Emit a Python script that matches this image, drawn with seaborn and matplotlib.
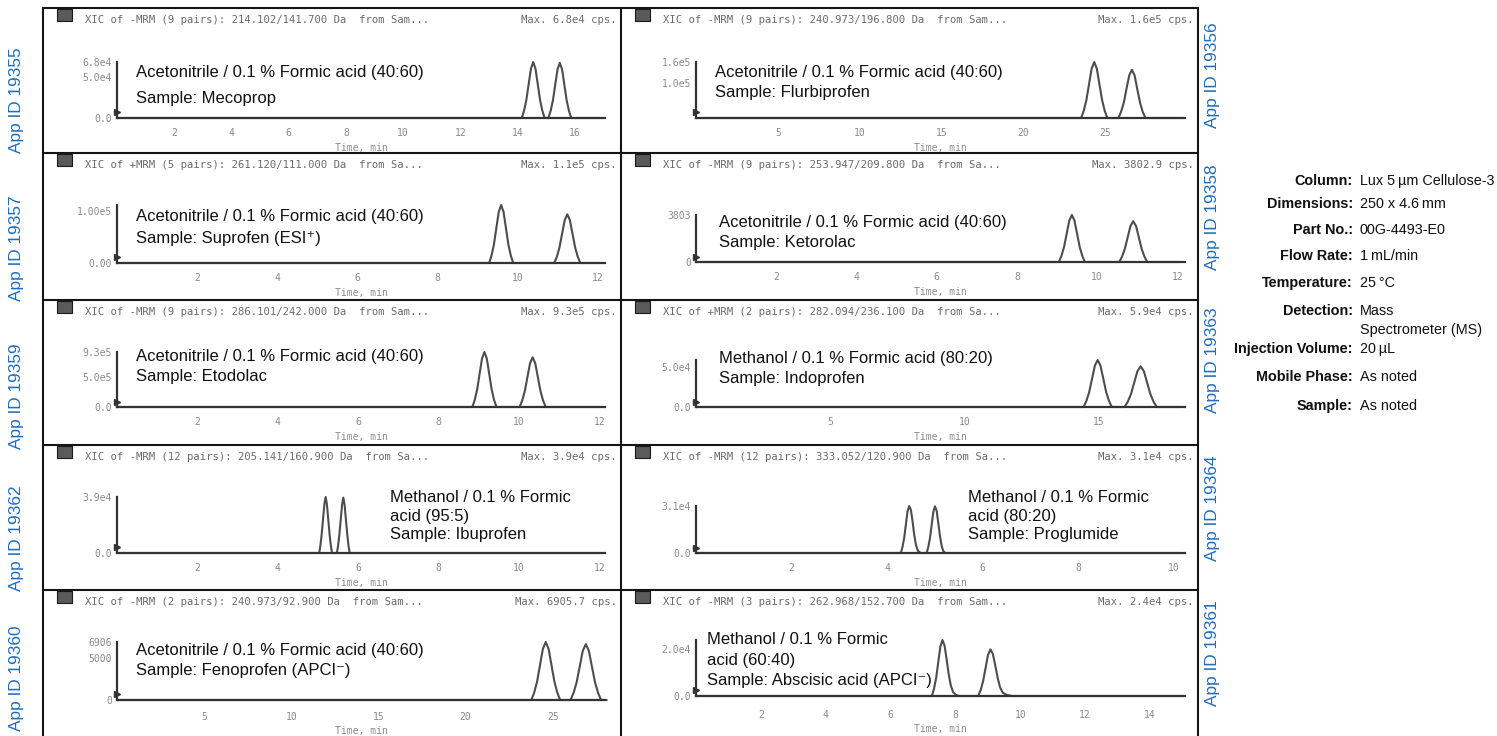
import matplotlib
matplotlib.use("Agg")
import matplotlib.pyplot as plt
import pandas as pd
import seaborn as sns
from matplotlib.lines import Line2D
from matplotlib.patches import Rectangle
from matplotlib.ticker import MultipleLocator, FuncFormatter

# ---------------------------------------------------------------- data
t_mecoprop = [0.0, 14.15, 14.23, 14.31, 14.39, 14.47, 14.55, 14.63, 14.71, 14.79, 14.87, 14.95,
              15.08, 15.16, 15.24, 15.32, 15.40, 15.48, 15.56, 15.64, 15.72, 15.80, 15.88, 16.95]
i_mecoprop = [0, 0, 8800, 21800, 40800, 59800, 68000, 59800, 40800, 21800, 8800, 0,
              0, 8700, 21400, 40200, 59000, 67000, 59000, 40200, 21400, 8700, 0, 0]

t_flurbiprofen = [0.0, 23.55, 23.71, 23.87, 24.03, 24.19, 24.35, 24.51, 24.67, 24.83, 24.99, 25.15,
                  25.83, 25.99, 26.16, 26.32, 26.49, 26.65, 26.82, 26.98, 27.15, 27.31, 27.48, 29.8]
i_flurbiprofen = [0, 0, 20800, 51200, 96000, 140800, 160000, 140800, 96000, 51200, 20800, 0,
                  0, 17900, 44200, 82800, 121400, 138000, 121400, 82800, 44200, 17900, 0, 0]

t_suprofen = [0.0, 9.28, 9.34, 9.40, 9.46, 9.52, 9.58, 9.64, 9.70, 9.76, 9.82, 9.88,
              10.905, 10.97, 11.035, 11.10, 11.165, 11.23, 11.295, 11.36, 11.425, 11.49, 11.555, 12.05]
i_suprofen = [0, 0, 14600, 35800, 67200, 98600, 112000, 98600, 67200, 35800, 14600, 0,
              0, 12200, 30100, 56400, 82700, 94000, 82700, 56400, 30100, 12200, 0, 0]

t_ketorolac = [0.0, 9.045, 9.11, 9.175, 9.24, 9.305, 9.37, 9.435, 9.50, 9.565, 9.63, 9.695,
               10.55, 10.62, 10.69, 10.76, 10.83, 10.90, 10.97, 11.04, 11.11, 11.18, 11.25, 12.05]
i_ketorolac = [0, 0, 494, 1217, 2282, 3347, 3803, 3347, 2282, 1217, 494, 0,
               0, 429, 1056, 1980, 2904, 3300, 2904, 1980, 1056, 429, 0, 0]

t_etodolac = [0.0, 8.84, 8.90, 8.96, 9.02, 9.08, 9.14, 9.20, 9.26, 9.32, 9.38, 9.44,
              10.015, 10.08, 10.145, 10.21, 10.275, 10.34, 10.405, 10.47, 10.535, 10.60, 10.665, 12.05]
i_etodolac = [0, 0, 120900, 297600, 558000, 818400, 930000, 818400, 558000, 297600, 120900, 0,
              0, 109200, 268800, 504000, 739200, 840000, 739200, 504000, 268800, 109200, 0, 0]

t_indoprofen = [0.0, 14.425, 14.53, 14.635, 14.74, 14.845, 14.95, 15.055, 15.16, 15.265, 15.37, 15.475,
                15.95, 16.07, 16.19, 16.31, 16.43, 16.55, 16.67, 16.79, 16.91, 17.03, 17.15, 18.05]
i_indoprofen = [0, 0, 7670, 18880, 35400, 51920, 59000, 51920, 35400, 18880, 7670, 0,
                0, 6630, 16320, 30600, 44880, 51000, 44880, 30600, 16320, 6630, 0, 0]

t_ibuprofen = [0.0, 5.03, 5.06, 5.09, 5.125, 5.16, 5.19, 5.22, 5.255, 5.29, 5.32, 5.35,
               5.47, 5.50, 5.53, 5.565, 5.60, 5.63, 5.66, 5.695, 5.73, 5.76, 5.79, 12.05]
i_ibuprofen = [0, 0, 5070, 12480, 23400, 34320, 39000, 34320, 23400, 12480, 5070, 0,
               0, 5020, 12350, 23160, 33970, 38600, 33970, 23160, 12350, 5020, 0, 0]

t_proglumide = [0.0, 4.285, 4.32, 4.355, 4.39, 4.425, 4.46, 4.495, 4.53, 4.565, 4.60, 4.64, 4.70,
                4.825, 4.86, 4.895, 4.93, 4.965, 5.00, 5.035, 5.07, 5.105, 5.14, 5.175, 5.22, 10.1]
i_proglumide = [0, 0, 4030, 9920, 18600, 27280, 31000, 28500, 21000, 12000, 5500, 1500, 0,
                0, 4000, 9860, 18480, 27100, 30800, 27800, 19500, 11000, 4600, 1200, 0, 0]

t_fenoprofen = [0.0, 23.775, 23.94, 24.105, 24.27, 24.435, 24.60, 24.765, 24.93, 25.095, 25.26, 25.425,
                26.025, 26.20, 26.375, 26.55, 26.725, 26.90, 27.075, 27.25, 27.425, 27.60, 27.775, 28.1]
i_fenoprofen = [0, 0, 898, 2210, 4144, 6077, 6906, 6077, 4144, 2210, 898, 0,
                0, 865, 2128, 3990, 5852, 6650, 5852, 3990, 2128, 865, 0, 0]

t_abscisic = [0.0, 7.275, 7.34, 7.405, 7.47, 7.535, 7.60, 7.665, 7.73, 7.795, 7.86, 7.93, 8.02, 8.12,
              8.705, 8.78, 8.855, 8.93, 9.005, 9.08, 9.155, 9.23, 9.305, 9.38, 9.46, 9.58, 9.75, 15.0]
i_abscisic = [0, 0, 3120, 7680, 14400, 21120, 24000, 21600, 15600, 9200, 4400, 1600, 500, 0,
              0, 2600, 6400, 12000, 17600, 20000, 18000, 13000, 7600, 3600, 1400, 500, 0, 0]

# y tick values / labels
yt_mecoprop, ytl_mecoprop = [0, 5.0e4, 6.8e4], ["0.0", "5.0e4", "6.8e4"]
yt_flurbiprofen, ytl_flurbiprofen = [1.0e5, 1.6e5], ["1.0e5", "1.6e5"]
yt_suprofen, ytl_suprofen = [0, 1.0e5], ["0.00", "1.00e5"]
yt_ketorolac, ytl_ketorolac = [0, 3803], ["0", "3803"]
yt_etodolac, ytl_etodolac = [0, 5.0e5, 9.3e5], ["0.0", "5.0e5", "9.3e5"]
yt_indoprofen, ytl_indoprofen = [0, 5.0e4], ["0.0", "5.0e4"]
yt_ibuprofen, ytl_ibuprofen = [0, 3.9e4], ["0.0", "3.9e4"]
yt_proglumide, ytl_proglumide = [0, 3.1e4], ["0.0", "3.1e4"]
yt_fenoprofen, ytl_fenoprofen = [0, 5000, 6906], ["0", "5000", "6906"]
yt_abscisic, ytl_abscisic = [0, 2.0e4], ["0.0", "2.0e4"]

# axis maxima (max signal of each trace, end of time axis)
ymax_list = [6.8e4, 1.6e5, 1.12e5, 3803, 9.3e5, 5.9e4, 3.9e4, 3.1e4, 6906, 2.4e4]
xmax_list = [17.06, 29.9, 12.17, 12.19, 12.14, 18.2, 12.14, 10.23, 28.0, 15.08]

headers = [
    "XIC of -MRM (9 pairs): 214.102/141.700 Da  from Sam...",
    "XIC of -MRM (9 pairs): 240.973/196.800 Da  from Sam...",
    "XIC of +MRM (5 pairs): 261.120/111.000 Da  from Sa...",
    "XIC of -MRM (9 pairs): 253.947/209.800 Da  from Sa...",
    "XIC of -MRM (9 pairs): 286.101/242.000 Da  from Sam...",
    "XIC of +MRM (2 pairs): 282.094/236.100 Da  from Sa...",
    "XIC of -MRM (12 pairs): 205.141/160.900 Da  from Sa...",
    "XIC of -MRM (12 pairs): 333.052/120.900 Da  from Sa...",
    "XIC of -MRM (2 pairs): 240.973/92.900 Da  from Sam...",
    "XIC of -MRM (3 pairs): 262.968/152.700 Da  from Sam...",
]
max_labels = ["Max. 6.8e4 cps.", "Max. 1.6e5 cps.", "Max. 1.1e5 cps.", "Max. 3802.9 cps.",
              "Max. 9.3e5 cps.", "Max. 5.9e4 cps.", "Max. 3.9e4 cps.", "Max. 3.1e4 cps.",
              "Max. 6905.7 cps.", "Max. 2.4e4 cps."]
notes = [
    ["Acetonitrile / 0.1 % Formic acid (40:60)", "Sample: Mecoprop"],
    ["Acetonitrile / 0.1 % Formic acid (40:60)", "Sample: Flurbiprofen"],
    ["Acetonitrile / 0.1 % Formic acid (40:60)", "Sample: Suprofen (ESI\u207a)"],
    ["Acetonitrile / 0.1 % Formic acid (40:60)", "Sample: Ketorolac"],
    ["Acetonitrile / 0.1 % Formic acid (40:60)", "Sample: Etodolac"],
    ["Methanol / 0.1 % Formic acid (80:20)", "Sample: Indoprofen"],
    ["Methanol / 0.1 % Formic", "acid (95:5)", "Sample: Ibuprofen"],
    ["Methanol / 0.1 % Formic", "acid (80:20)", "Sample: Proglumide"],
    ["Acetonitrile / 0.1 % Formic acid (40:60)", "Sample: Fenoprofen (APCI\u207b)"],
    ["Methanol / 0.1 % Formic", "acid (60:40)", "Sample: Abscisic acid (APCI\u207b)"],
]
app_ids = ["App ID 19355", "App ID 19356", "App ID 19357", "App ID 19358", "App ID 19359",
           "App ID 19363", "App ID 19362", "App ID 19364", "App ID 19360", "App ID 19361"]

info_labels = ["Column:", "Dimensions:", "Part No.:", "Flow Rate:", "Temperature:",
               "Detection:", "Injection Volume:", "Mobile Phase:", "Sample:"]
info_values = ["Lux 5\u2009\u00b5m Cellulose-3", "250 x 4.6\u2009mm", "00G-4493-E0", "1\u2009mL/min",
               "25\u2009\u00b0C", "Mass\nSpectrometer (MS)", "20\u2009\u00b5L", "As noted", "As noted"]

traces = [(t_mecoprop, i_mecoprop), (t_flurbiprofen, i_flurbiprofen), (t_suprofen, i_suprofen),
          (t_ketorolac, i_ketorolac), (t_etodolac, i_etodolac), (t_indoprofen, i_indoprofen),
          (t_ibuprofen, i_ibuprofen), (t_proglumide, i_proglumide), (t_fenoprofen, i_fenoprofen),
          (t_abscisic, i_abscisic)]
yticks = [(yt_mecoprop, ytl_mecoprop), (yt_flurbiprofen, ytl_flurbiprofen), (yt_suprofen, ytl_suprofen),
          (yt_ketorolac, ytl_ketorolac), (yt_etodolac, ytl_etodolac), (yt_indoprofen, ytl_indoprofen),
          (yt_ibuprofen, ytl_ibuprofen), (yt_proglumide, ytl_proglumide), (yt_fenoprofen, ytl_fenoprofen),
          (yt_abscisic, ytl_abscisic)]

# ---------------------------------------------------------------- layout / style
W, H = 1497, 736
sns.set_style("white")
MONO = ['DejaVu Sans Mono']
SANS = ['Liberation Sans', 'DejaVu Sans']
plt.rcParams['font.family'] = MONO

ROW_TOP = [8, 153, 300, 445, 590]
CELL = [(43, 621), (621, 1198)]
AXX = [(117, 605), (696, 1185)]
LAYOUT = [
    dict(top=54, bot=110, xmaj=2, xmin=1, ymin=1e4, tx=136, ty=65, sp=25, app=92, pad=4.5),
    dict(top=54, bot=110, xmaj=5, xmin=1, ymin=2e4, tx=715, ty=65, sp=20, app=67, pad=4.5),
    dict(top=52, bot=110, xmaj=2, xmin=1, ymin=2.5e4, tx=136, ty=64, sp=21, app=95, pad=4.5),
    dict(top=62, bot=109, xmaj=2, xmin=1, ymin=1000, tx=719, ty=70, sp=20, app=64, pad=4.5),
    dict(top=52, bot=107, xmaj=2, xmin=1, ymin=1e5, tx=136, ty=57, sp=20, app=96, pad=4.5),
    dict(top=60, bot=107, xmaj=5, xmin=1, ymin=1e4, tx=719, ty=58, sp=20, app=60, pad=4.5),
    dict(top=52, bot=108, xmaj=2, xmin=1, ymin=1e4, tx=390, ty=52, sp=19, app=93, pad=4.5),
    dict(top=61, bot=108, xmaj=2, xmin=1, ymin=1e4, tx=968, ty=52, sp=19, app=63, pad=4.5),
    dict(top=52, bot=110, xmaj=5, xmin=1, ymin=1000, tx=136, ty=60, sp=21, app=88, pad=5.5),
    dict(top=50, bot=106, xmaj=2, xmin=1, ymin=5000, tx=707, ty=50, sp=20, app=63, pad=7),
]

fig = plt.figure(figsize=(W / 100, H / 100), dpi=100)
fig.patch.set_facecolor('white')


def fx(x):
    return x / W


def fy(y):
    return 1 - y / H


LINE_C = '#4d4d4d'
AX_C = '#333333'
TICK_C = '#8a8a8a'

for k in range(10):
    row, col = k // 2, k % 2
    L = LAYOUT[k]
    rt = ROW_TOP[row]
    c0, c1 = CELL[col]
    a0, a1 = AXX[col]
    ax = fig.add_axes([fx(a0), fy(rt + L['bot']), (a1 - a0) / W, (L['bot'] - L['top']) / H])
    ax.set_facecolor('none')
    t, inten = traces[k]
    df = pd.DataFrame({'time': t, 'intensity': inten})
    sns.lineplot(data=df, x='time', y='intensity', ax=ax, color=LINE_C, linewidth=1.5,
                 estimator=None, sort=False, clip_on=False)
    ax.set_xlim(0, xmax_list[k])
    ax.set_ylim(0, ymax_list[k])
    for s in ['top', 'right']:
        ax.spines[s].set_visible(False)
    for s in ['left', 'bottom']:
        ax.spines[s].set_color(AX_C)
        ax.spines[s].set_linewidth(1.6)
    ax.xaxis.set_major_locator(MultipleLocator(L['xmaj']))
    ax.xaxis.set_minor_locator(MultipleLocator(L['xmin']))
    ax.xaxis.set_major_formatter(FuncFormatter(lambda v, p: '' if abs(v) < 1e-9 else f'{v:g}'))
    yt, ytl = yticks[k]
    ax.set_yticks(yt, labels=ytl)
    ax.yaxis.set_minor_locator(MultipleLocator(L['ymin']))
    ax.tick_params(axis='x', which='major', direction='out', length=3, width=1, color=AX_C,
                   pad=L['pad'], labelsize=7, labelcolor=TICK_C)
    ax.tick_params(axis='x', which='minor', direction='out', length=2, width=1, color=AX_C)
    ax.tick_params(axis='y', which='major', direction='out', length=2.5, width=1, color=AX_C,
                   pad=1, labelsize=7, labelcolor=TICK_C)
    ax.tick_params(axis='y', which='minor', direction='out', length=1.8, width=1, color=AX_C)
    ax.set_xlabel('Time, min', fontsize=7, color=TICK_C, labelpad=3)
    ax.set_ylabel('')
    ax.grid(False)
    # start marker on the y axis
    ax.plot([0], [0.1], marker='>', ms=5, color='#333333', transform=ax.transAxes, clip_on=False)

    # header line
    fig.text(fx(c0 + 42), fy(rt + 12), headers[k], family=MONO, fontsize=7.6, color='#6a6a6a',
             ha='left', va='center')
    fig.text(fx(c1 - 4), fy(rt + 12), max_labels[k], family=MONO, fontsize=7.6, color='#6a6a6a',
             ha='right', va='center')
    fig.add_artist(Rectangle((fx(c0 + 14), fy(rt + 13)), 15 / W, 12 / H, transform=fig.transFigure,
                             facecolor='#5a5a5a', edgecolor='#1a1a1a', lw=0.8))
    # annotation
    for j, line in enumerate(notes[k]):
        fig.text(fx(L['tx']), fy(rt + L['ty'] + j * L['sp']), line, family=SANS, fontsize=12,
                 color='#111111', ha='left', va='center')
    # app id
    xa = 17 if col == 0 else 1212
    fig.text(fx(xa), fy(rt + L['app']), app_ids[k], family=SANS, fontsize=12.4, color='#1f6dbd',
             rotation=90, ha='center', va='center')

# grid frame
FRAME = '#151515'
fig.add_artist(Line2D([fx(43), fx(1198)], [fy(8), fy(8)], color=FRAME, lw=1.5))
for yy in ROW_TOP[1:]:
    fig.add_artist(Line2D([fx(43), fx(1198)], [fy(yy), fy(yy)], color=FRAME, lw=1.5))
for xx in [43, 621, 1198]:
    fig.add_artist(Line2D([fx(xx), fx(xx)], [fy(8), fy(736)], color=FRAME, lw=1.5))

# info block
INFO_Y = [181, 204, 230, 256, 283, 311, 349, 377, 406]
for lab, val, yy in zip(info_labels, info_values, INFO_Y):
    fig.text(fx(1353), fy(yy), lab, family=SANS, fontsize=10.4, fontweight='bold', color='#111111',
             ha='right', va='center')
    for j, part in enumerate(val.split('\n')):
        fig.text(fx(1360), fy(yy + j * 19), part, family=SANS, fontsize=10.4, color='#111111',
                 ha='left', va='center')

fig.savefig('out.png', dpi=100, facecolor='white')
